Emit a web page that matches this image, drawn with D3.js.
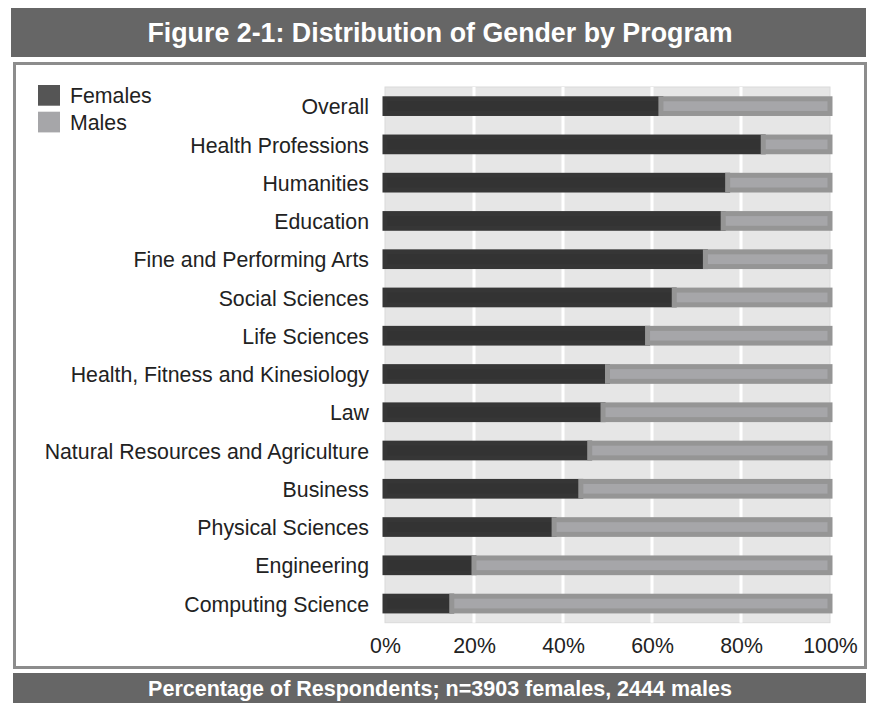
<!DOCTYPE html>
<html>
<head>
<meta charset="utf-8">
<script src="https://cdn.jsdelivr.net/npm/d3@7"></script>
<style>
  html, body { margin: 0; padding: 0; background: #fff; }
  svg { display: block; font-family: "Liberation Sans", Arial, Helvetica, sans-serif; }
</style>
</head>
<body>
<svg id="chart" width="871" height="703"></svg>
<script>
// Programs, top to bottom
const programs = [
  "Overall",
  "Health Professions",
  "Humanities",
  "Education",
  "Fine and Performing Arts",
  "Social Sciences",
  "Life Sciences",
  "Health, Fitness and Kinesiology",
  "Law",
  "Natural Resources and Agriculture",
  "Business",
  "Physical Sciences",
  "Engineering",
  "Computing Science"
];
// Share of female respondents in each program (%)
const females = [62, 85, 77, 76, 72, 65, 59, 50, 49, 46, 44, 38, 20, 15];
// Share of male respondents in each program (%)
const males = [38, 15, 23, 24, 28, 35, 41, 50, 51, 54, 56, 62, 80, 85];
const tickValues = [0, 20, 40, 60, 80, 100];
const seriesNames = ["Females", "Males"];

const titleText = "Figure 2-1: Distribution of Gender by Program";
const footerText = "Percentage of Respondents; n=3903 females, 2444 males";

const svg = d3.select("#chart");
const labelSize = 21.3;

// Title banner
svg.append("rect").attr("x", 11).attr("y", 8).attr("width", 855).attr("height", 49).attr("fill", "#666666");
svg.append("text").attr("x", 440).attr("y", 42)
  .attr("text-anchor", "middle").attr("fill", "#fff")
  .attr("font-weight", "bold").attr("font-size", 26.8).text(titleText);

// Chart frame
svg.append("rect").attr("x", 14.5).attr("y", 63.5).attr("width", 851).attr("height", 604)
  .attr("fill", "#fff").attr("stroke", "#8c8c8c").attr("stroke-width", 3);

// Footer banner
svg.append("rect").attr("x", 13).attr("y", 673).attr("width", 853).attr("height", 30).attr("fill", "#666666");
svg.append("text").attr("x", 440).attr("y", 696)
  .attr("text-anchor", "middle").attr("fill", "#fff")
  .attr("font-weight", "bold").attr("font-size", 21.5).text(footerText);

// Scales
const x = d3.scaleLinear().domain([0, 100]).range([385, 830]);
const y = d3.scaleBand().domain(programs).range([87, 622.7]).padding(0);
const barH = 14.7;

// Plot background
svg.append("rect")
  .attr("x", x(0)).attr("y", y.range()[0])
  .attr("width", x(100) - x(0)).attr("height", y.range()[1] - y.range()[0])
  .attr("fill", "#e6e6e6").attr("stroke", "#dadada").attr("stroke-width", 1);

// Vertical gridlines
svg.append("g").selectAll("line")
  .data(tickValues.filter(t => t > 0 && t < 100))
  .join("line")
  .attr("x1", d => x(d)).attr("x2", d => x(d))
  .attr("y1", y.range()[0]).attr("y2", y.range()[1])
  .attr("stroke", "#ffffff").attr("stroke-width", 3);

// Bars
const rows = programs.map((p, i) => ({ p, f: females[i], m: males[i] }));
const barG = svg.append("g");

barG.selectAll("rect.fem")
  .data(rows).join("rect").attr("class", "fem")
  .attr("x", x(0))
  .attr("y", d => y(d.p) + y.bandwidth() / 2 - barH / 2)
  .attr("width", d => x(d.f) - x(0))
  .attr("height", barH)
  .attr("fill", "#333333").attr("stroke", "#363636").attr("stroke-width", 5);

barG.selectAll("rect.male")
  .data(rows).join("rect").attr("class", "male")
  .attr("x", d => x(d.f))
  .attr("y", d => y(d.p) + y.bandwidth() / 2 - barH / 2)
  .attr("width", d => x(d.f + d.m) - x(d.f))
  .attr("height", barH)
  .attr("fill", "#a6a6a9").attr("stroke", "#959595").attr("stroke-width", 5);

// Category axis
const yAxis = svg.append("g")
  .attr("transform", `translate(${x(0) - 16},0)`)
  .call(d3.axisLeft(y).tickSize(0).tickPadding(0));
yAxis.select(".domain").remove();
yAxis.selectAll("text")
  .attr("font-size", labelSize).attr("fill", "#222")
  .attr("font-family", "'Liberation Sans', Arial, sans-serif")
  .attr("dy", "0.38em");

// Percentage axis
const xAxis = svg.append("g")
  .attr("transform", "translate(0,652.7)")
  .call(d3.axisBottom(x).tickValues(tickValues).tickSize(0).tickPadding(0).tickFormat(d => d + "%"));
xAxis.select(".domain").remove();
xAxis.selectAll("text")
  .attr("font-size", labelSize).attr("fill", "#222")
  .attr("font-family", "'Liberation Sans', Arial, sans-serif")
  .attr("y", 0).attr("dy", 0);

// Legend
const legendColors = ["#555555", "#a6a6a9"];
const leg = svg.append("g");
seriesNames.forEach((name, i) => {
  leg.append("rect").attr("x", 38).attr("y", 85 + i * 26.7)
    .attr("width", 22).attr("height", 20.7).attr("fill", legendColors[i]);
  leg.append("text").attr("x", 70).attr("y", 103.3 + i * 26.7)
    .attr("font-size", labelSize).attr("fill", "#222").text(name);
});
</script>
</body>
</html>
